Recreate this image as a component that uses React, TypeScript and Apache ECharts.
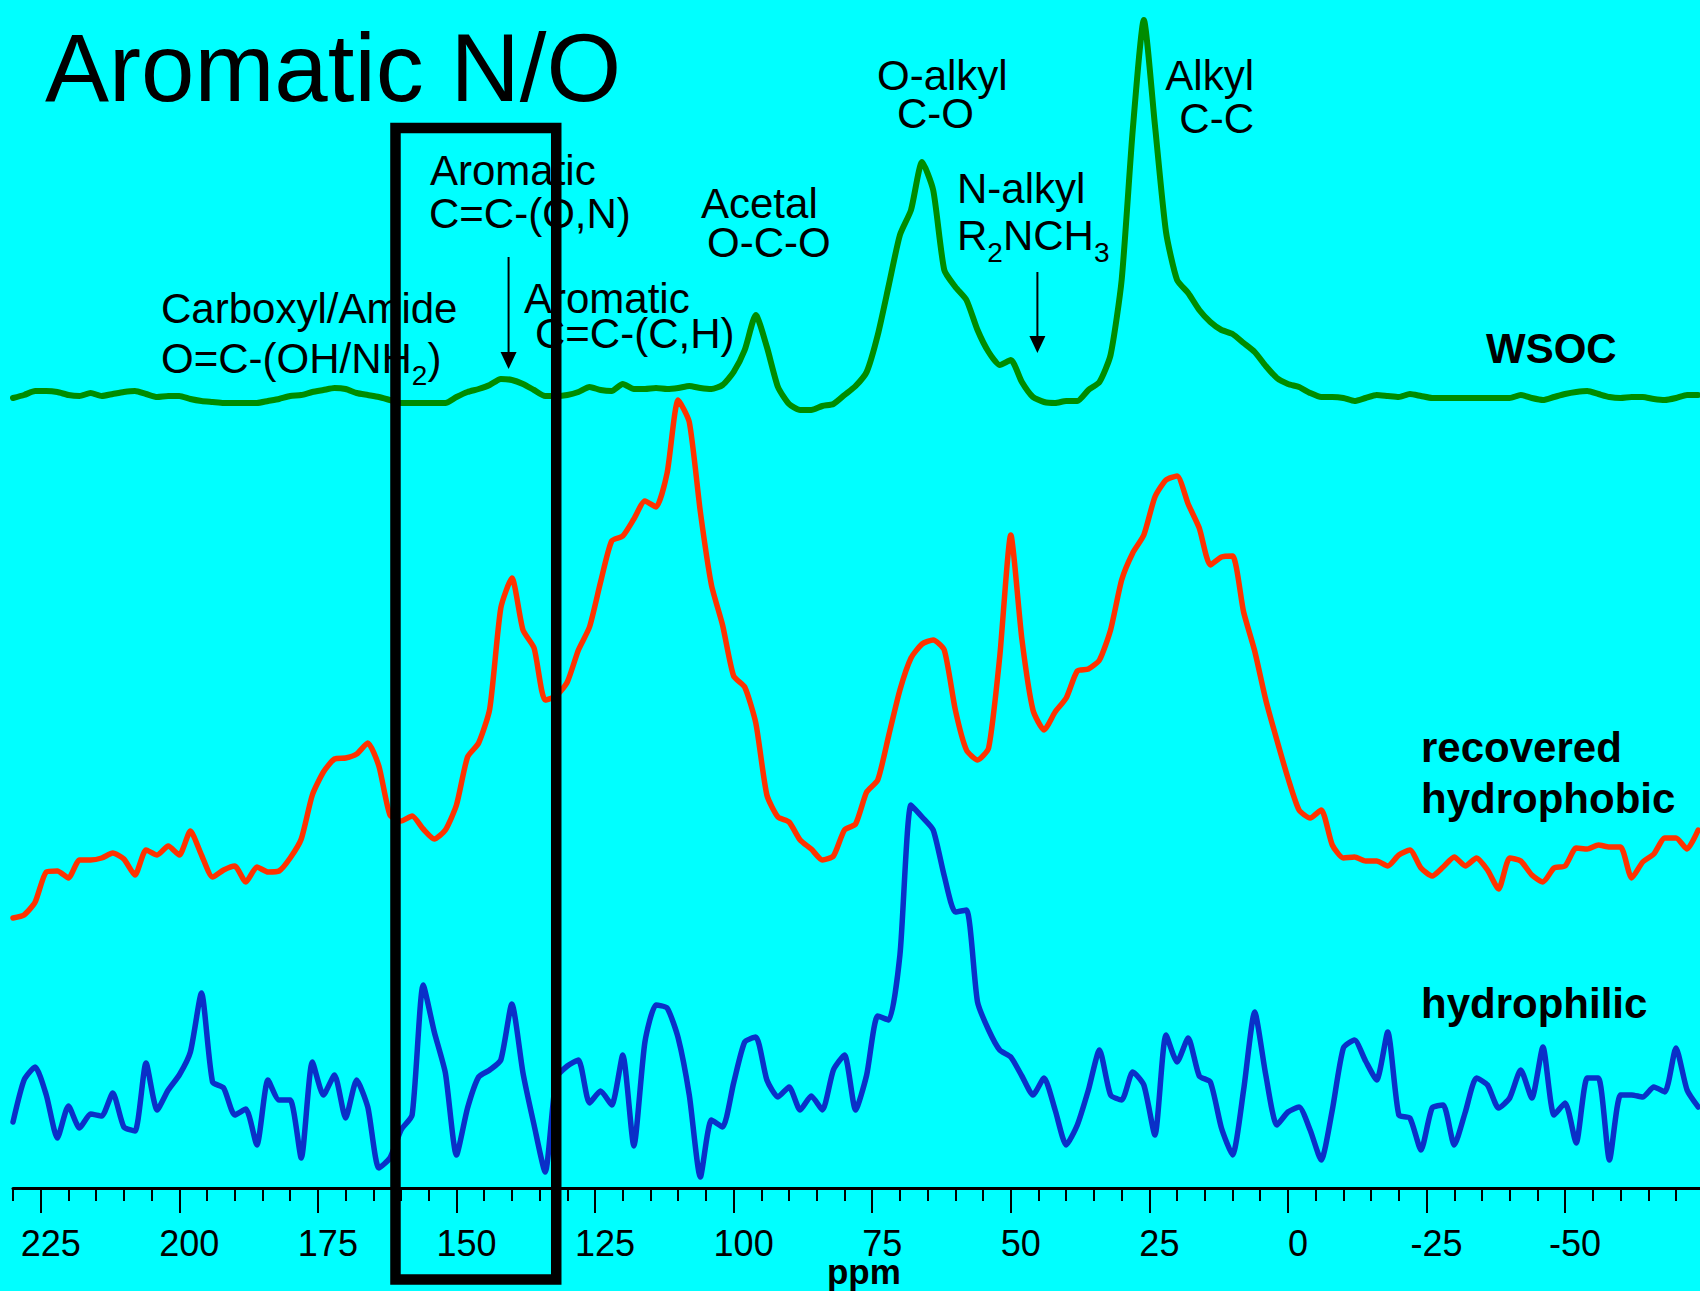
import React, { useEffect, useRef } from "react";
import * as echarts from "echarts";

// 13C NMR chemical shift samples (ppm), 2 ppm apart, from 230 down to -74
const PPM: number[] = [];
for (let p = 230; p >= -74; p -= 2) PPM.push(p);

// Water-soluble organic carbon spectrum (intensity above its own baseline)
const WSOC = [
  0.0, 0.3, 0.7, 0.7, 0.6, 0.3, 0.2, 0.5, 0.2, 0.4,
  0.6, 0.7, 0.4, 0.1, 0.2, 0.2, -0.1, -0.3, -0.4, -0.5,
  -0.5, -0.5, -0.5, -0.3, -0.1, 0.2, 0.3, 0.6, 0.8, 1.0,
  0.9, 0.5, 0.3, 0.1, -0.2, -0.5, -0.5, -0.5, -0.5, -0.5,
  0.1, 0.6, 0.9, 1.3, 1.9, 1.8, 1.4, 0.8, 0.2, 0.2,
  0.3, 0.6, 1.1, 0.8, 0.7, 1.4, 0.9, 0.9, 1.0, 0.9,
  1.0, 1.2, 1.0, 0.9, 1.3, 2.6, 4.8, 8.3, 5.1, 1.1,
  -0.6, -1.2, -1.2, -0.8, -0.6, 0.3, 1.2, 2.6, 6.3, 11.3,
  16.3, 18.8, 23.6, 20.8, 12.8, 11.1, 9.8, 6.8, 4.6, 3.3,
  3.8, 1.6, 0.1, -0.4, -0.5, -0.3, -0.3, 0.8, 1.6, 4.3,
  11.8, 26.8, 37.8, 27.3, 16.6, 11.8, 10.5, 8.8, 7.6, 6.8,
  6.4, 5.5, 4.6, 3.2, 2.0, 1.4, 1.1, 0.5, 0.1, 0.1,
  0.0, -0.3, 0.0, 0.3, 0.2, 0.1, 0.4, 0.2, 0.0, 0.0,
  0.0, 0.0, 0.0, 0.0, 0.0, 0.0, 0.3, 0.0, -0.2, 0.1,
  0.4, 0.6, 0.7, 0.4, 0.1, 0.0, 0.1, 0.1, -0.1, -0.2,
  0.0, 0.3, 0.3,
];

// Recovered hydrophobic fraction
const HYDROPHOBIC = [
  -5.0, -4.7, -3.4, -0.4, -0.3, -1.0, 0.8, 0.8, 1.0, 1.5,
  0.9, -0.7, 1.8, 1.3, 2.2, 1.3, 3.7, 1.3, -0.9, -0.2,
  0.2, -1.4, 0.1, -0.4, -0.3, 1.0, 2.9, 7.3, 9.6, 10.9,
  11.0, 11.4, 12.5, 10.2, 5.3, 4.7, 5.2, 3.9, 2.9, 3.8,
  6.3, 11.1, 12.5, 15.9, 26.0, 29.0, 23.8, 22.0, 16.8, 17.2,
  18.6, 21.8, 24.1, 28.6, 32.7, 33.2, 34.9, 36.7, 36.1, 39.5,
  46.8, 44.6, 35.6, 28.3, 24.3, 19.2, 18.1, 14.5, 7.3, 5.1,
  4.6, 2.8, 1.9, 0.8, 1.2, 3.8, 4.4, 7.6, 8.8, 13.3,
  17.8, 21.0, 22.4, 22.8, 21.8, 15.8, 11.8, 10.8, 12.0, 21.1,
  33.3, 22.9, 15.8, 13.8, 15.6, 17.0, 19.7, 19.9, 20.8, 23.8,
  28.8, 31.5, 33.3, 37.1, 38.8, 39.2, 36.4, 34.0, 30.3, 31.1,
  31.2, 25.6, 21.7, 16.8, 12.8, 9.0, 5.8, 5.0, 5.8, 2.3,
  1.0, 1.1, 0.7, 0.7, 0.2, 1.3, 1.8, 0.0, -0.8, 0.1,
  1.1, 0.2, 1.0, -0.2, -2.1, 1.0, 0.7, -0.7, -1.4, 0.0,
  0.2, 2.0, 1.9, 2.3, 2.1, 2.1, -1.0, 0.6, 1.4, 3.0,
  3.0, 1.9, 3.8,
];

// Hydrophilic fraction
const HYDROPHILIC = [
  -1.4, 2.8, 4.1, 1.3, -3.0, 0.2, -2.0, -0.6, -0.8, 1.5,
  -1.9, -2.3, 4.5, -0.2, 1.8, 3.3, 5.6, 11.5, 2.6, 2.0,
  -0.7, -0.1, -3.7, 2.8, 0.8, 0.8, -5.0, 4.6, 1.3, 3.3,
  -1.0, 2.8, 0.1, -6.0, -5.0, -2.2, -0.7, 12.3, 7.6, 3.5,
  -4.7, 0.0, 3.1, 3.8, 4.8, 10.4, 3.5, -1.7, -6.4, 3.0,
  4.2, 4.8, 0.5, 1.7, 0.3, 5.3, -3.8, 6.6, 10.3, 10.0,
  7.0, 1.3, -6.9, -1.2, -1.9, 2.5, 6.6, 7.1, 2.8, 1.1,
  2.1, -0.2, 1.2, -0.2, 3.8, 5.3, -0.2, 3.3, 9.2, 8.8,
  15.3, 30.3, 29.1, 27.8, 23.2, 19.6, 19.8, 10.6, 7.8, 5.8,
  5.1, 3.2, 1.3, 3.0, -0.2, -3.7, -1.7, 1.8, 5.8, 1.3,
  0.8, 3.6, 2.3, -2.7, 7.3, 4.6, 7.0, 3.2, 2.6, -2.0,
  -4.7, 1.8, 9.6, 3.3, -1.7, -0.4, 0.1, -2.2, -5.2, -0.2,
  6.0, 6.8, 4.7, 2.8, 7.6, -0.7, -1.0, -4.2, 0.0, 0.3,
  -3.7, -0.4, 3.0, 2.3, 0.0, 1.0, 3.8, 1.0, 6.1, -0.7,
  0.5, -3.5, 3.0, 3.0, -5.2, 1.3, 1.3, 1.1, 2.1, 1.6,
  6.0, 1.8, 0.1,
];

// Stacking offsets of the three spectra
const OFFSET_WSOC = 79;
const OFFSET_HYDROPHOBIC = 32;
const OFFSET_HYDROPHILIC = 8;

// Axis
const X_MIN = -75;
const X_MAX = 230;
const MAJOR_TICKS = [225, 200, 175, 150, 125, 100, 75, 50, 25, 0, -25, -50];
const X_TITLE = "ppm";
const X_TITLE_AT = 76.5;

// Highlighted aromatic N/O window and peak arrows (ppm)
const HIGHLIGHT_PPM: [number, number] = [161, 132];
const ARROW_AROMATIC_ON = 140.6;
const ARROW_N_ALKYL = 45.2;

const W = 1700;
const H = 1291;
const FONT = '"Liberation Sans", Arial, Helvetica, sans-serif';
const CENTRAL = 0.3467; // distance from alphabetic to central baseline, in em

const measureCtx =
  typeof document !== "undefined" ? document.createElement("canvas").getContext("2d") : null;

function textWidth(text: string, size: number, weight = "normal"): number {
  if (!measureCtx) return text.length * size * 0.55;
  measureCtx.font = `${weight} ${size}px ${FONT}`;
  return measureCtx.measureText(text).width;
}

type Run = { text: string; size?: number; sub?: boolean };

// One line of text made of runs; subscripts are smaller and dropped below the baseline
function textLine(runs: Run[], x: number, baseline: number, opts: { bold?: boolean; align?: string } = {}) {
  const weight = opts.bold ? "bold" : "normal";
  const sized = runs.map((r) => ({ ...r, size: r.size ?? (r.sub ? 28 : 42) }));
  const total = sized.reduce((s, r) => s + textWidth(r.text, r.size!, weight), 0);
  let cx = opts.align === "right" ? x - total : opts.align === "center" ? x - total / 2 : x;
  const els: any[] = [];
  for (const r of sized) {
    const size = r.size!;
    const b = r.sub ? baseline + 12 : baseline;
    els.push({
      type: "text",
      x: cx,
      y: b - CENTRAL * size,
      z: 50,
      silent: true,
      style: {
        text: r.text,
        fontSize: size,
        fontFamily: FONT,
        fontWeight: weight,
        fill: "#000",
        align: "left",
        verticalAlign: "middle",
        textAlign: "left",
        textVerticalAlign: "middle",
      },
    });
    cx += textWidth(r.text, size, weight);
  }
  return els;
}

function stacked(values: number[], offset: number) {
  return PPM.map((p, i) => [p, offset + values[i]]);
}

export default function App() {
  const ref = useRef<HTMLDivElement>(null);

  useEffect(() => {
    const chart = echarts.init(ref.current!, null, { renderer: "svg", width: W, height: H });

    const lineSeries = (name: string, data: number[][], color: string, width: number) => ({
      name,
      type: "line",
      data,
      xAxisIndex: 0,
      yAxisIndex: 0,
      symbol: "none",
      showSymbol: false,
      silent: true,
      clip: false,
      smooth: 0.2,
      lineStyle: { color, width, join: "round", cap: "round" },
    });

    chart.setOption({
      animation: false,
      backgroundColor: "#00FFFF",
      grid: { left: 13, right: -3.7, top: 0, bottom: 103, containLabel: false, outerBoundsMode: "none" },
      xAxis: [
        {
          type: "value",
          min: X_MIN,
          max: X_MAX,
          inverse: true,
          interval: 5,
          position: "bottom",
          axisLine: { show: true, onZero: false, lineStyle: { color: "#000", width: 3 } },
          axisTick: { show: true, length: 13, lineStyle: { color: "#000", width: 2 } },
          axisLabel: { show: false },
          splitLine: { show: false },
        },
        {
          type: "value",
          min: X_MIN,
          max: X_MAX,
          inverse: true,
          interval: 25,
          position: "bottom",
          axisLine: { show: false, onZero: false },
          axisTick: {
            show: true,
            length: 25,
            customValues: MAJOR_TICKS,
            lineStyle: { color: "#000", width: 2 },
          },
          axisLabel: {
            show: true,
            customValues: MAJOR_TICKS,
            margin: 37,
            fontSize: 36,
            fontFamily: FONT,
            color: "#000",
            padding: [0, 0, 0, 20],
          },
          splitLine: { show: false },
        },
      ],
      yAxis: { type: "value", min: 0, max: 118.8, show: false },
      series: [
        lineSeries("WSOC", stacked(WSOC, OFFSET_WSOC), "#008C00", 6),
        lineSeries("recovered hydrophobic", stacked(HYDROPHOBIC, OFFSET_HYDROPHOBIC), "#FF3300", 5.5),
        lineSeries("hydrophilic", stacked(HYDROPHILIC, OFFSET_HYDROPHILIC), "#0A30C8", 5.5),
      ],
    });

    const px = (ppm: number) => chart.convertToPixel({ xAxisIndex: 0 }, ppm) as number;

    const boxLeft = px(HIGHLIGHT_PPM[0]);
    const boxRight = px(HIGHLIGHT_PPM[1]);
    const arrow = (ppm: number, top: number, tip: number) => {
      const x = px(ppm);
      return [
        {
          type: "line",
          z: 60,
          silent: true,
          shape: { x1: x, y1: top, x2: x, y2: tip - 10 },
          style: { stroke: "#000", lineWidth: 2 },
        },
        {
          type: "polygon",
          z: 60,
          silent: true,
          shape: { points: [[x - 8, tip - 17], [x + 8, tip - 17], [x, tip]] },
          style: { fill: "#000" },
        },
      ];
    };

    const graphics: any[] = [
      ...textLine([{ text: "Aromatic N/O", size: 96 }], 45, 101),
      ...textLine([{ text: "Aromatic" }], 430, 185),
      ...textLine([{ text: "C=C-(O,N)" }], 429, 228),
      ...textLine([{ text: "Carboxyl/Amide" }], 161, 323),
      ...textLine([{ text: "O=C-(OH/NH" }, { text: "2", sub: true }, { text: ")" }], 161, 373),
      ...textLine([{ text: "Aromatic" }], 524, 313),
      ...textLine([{ text: "C=C-(C,H)" }], 535, 348),
      ...textLine([{ text: "Acetal" }], 701, 218),
      ...textLine([{ text: "O-C-O" }], 707, 257),
      ...textLine([{ text: "O-alkyl" }], 877, 90),
      ...textLine([{ text: "C-O" }], 897, 128),
      ...textLine([{ text: "N-alkyl" }], 957, 203),
      ...textLine(
        [{ text: "R" }, { text: "2", sub: true }, { text: "NCH" }, { text: "3", sub: true }],
        957,
        250
      ),
      ...textLine([{ text: "Alkyl" }], 1254, 90, { align: "right" }),
      ...textLine([{ text: "C-C" }], 1254, 133, { align: "right" }),
      ...textLine([{ text: "WSOC" }], 1486, 363, { bold: true }),
      ...textLine([{ text: "recovered" }], 1421, 762, { bold: true }),
      ...textLine([{ text: "hydrophobic" }], 1421, 813, { bold: true }),
      ...textLine([{ text: "hydrophilic" }], 1421, 1018, { bold: true }),
      // axis title under the tick labels
      ...textLine([{ text: X_TITLE, size: 35 }], px(X_TITLE_AT), 1284, { bold: true, align: "center" }),
      ...arrow(ARROW_AROMATIC_ON, 257, 369),
      ...arrow(ARROW_N_ALKYL, 272, 353),
      {
        type: "rect",
        z: 100,
        silent: true,
        shape: { x: boxLeft, y: 128, width: boxRight - boxLeft, height: 1279.5 - 128 },
        style: { fill: "transparent", stroke: "#000", lineWidth: 10.5 },
      },
    ];

    chart.setOption({ graphic: { elements: graphics } });

    return () => chart.dispose();
  }, []);

  return (
    <div
      ref={ref}
      style={{ position: "absolute", left: 0, top: 0, width: W, height: H }}
    />
  );
}
